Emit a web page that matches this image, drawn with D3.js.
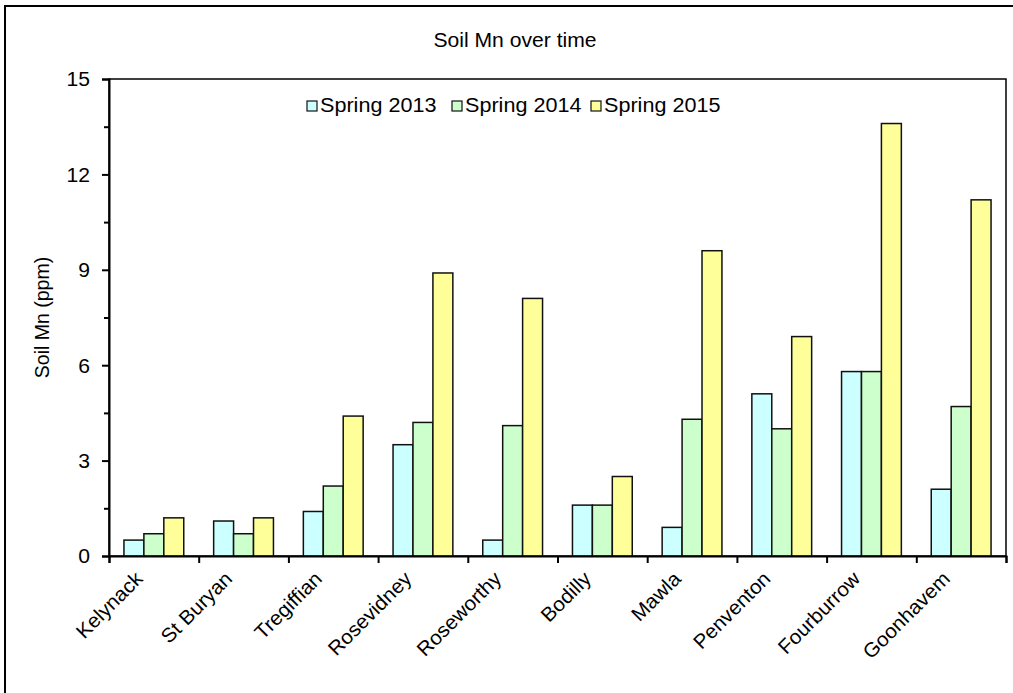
<!DOCTYPE html>
<html>
<head>
<meta charset="utf-8">
<script src="https://cdn.jsdelivr.net/npm/d3@7/dist/d3.min.js"></script>
<style>
  html, body { margin: 0; padding: 0; background: #fff; }
  svg { display: block; }
  text { font-family: "Liberation Sans", Arial, sans-serif; fill: #000; }
</style>
</head>
<body>
<svg id="chart" width="1013" height="693"></svg>
<script>
// Soil manganese by site, three spring samplings
const sites = ["Kelynack", "St Buryan", "Tregiffian", "Rosevidney", "Roseworthy",
               "Bodilly", "Mawla", "Penventon", "Fourburrow", "Goonhavem"];
const seriesNames = ["Spring 2013", "Spring 2014", "Spring 2015"];
const spring2013 = [0.5, 1.1, 1.4, 3.5, 0.5, 1.6, 0.9, 5.1, 5.8, 2.1];
const spring2014 = [0.7, 0.7, 2.2, 4.2, 4.1, 1.6, 4.3, 4.0, 5.8, 4.7];
const spring2015 = [1.2, 1.2, 4.4, 8.9, 8.1, 2.5, 9.6, 6.9, 13.6, 11.2];
const seriesColors = ["#CCFFFF", "#CCFFCC", "#FFFF99"];
const yTicks = [0, 3, 6, 9, 12, 15];
const yMinorTicks = [1.5, 4.5, 7.5, 10.5, 13.5];

const seriesValues = [spring2013, spring2014, spring2015];
const rows = sites.map((s, i) => ({
  site: s,
  values: seriesNames.map((n, k) => ({ series: n, value: seriesValues[k][i] }))
}));

const svg = d3.select("#chart");
const SX = 1.32, SY = 1.22;   // lettering is drawn wide and slightly tall
const FS = 16;                // base font size
const stretch = `scale(${SX},${SY})`;

const plot = { left: 109, right: 1006, top: 79, bottom: 556 };

// outer frame
svg.append("rect")
  .attr("x", 5).attr("y", 6).attr("width", 1030).attr("height", 720)
  .attr("fill", "none").attr("stroke", "#000").attr("stroke-width", 2);

const x = d3.scaleBand().domain(sites).range([plot.left, plot.right]).padding(0);
const bw = x.bandwidth();
const x1 = d3.scaleBand().domain(seriesNames).range([bw / 6, bw * 5 / 6]).padding(0);
const y = d3.scaleLinear().domain([0, 15]).range([plot.bottom, plot.top]);
const color = d3.scaleOrdinal().domain(seriesNames).range(seriesColors);

// plot frame
svg.append("rect")
  .attr("x", plot.left).attr("y", plot.top)
  .attr("width", plot.right - plot.left).attr("height", plot.bottom - plot.top)
  .attr("fill", "none").attr("stroke", "#000").attr("stroke-width", 1.5);

// bars
const groups = svg.append("g").selectAll("g").data(rows).join("g")
  .attr("transform", d => `translate(${x(d.site)},0)`);
groups.selectAll("rect").data(d => d.values).join("rect")
  .attr("x", d => x1(d.series))
  .attr("width", x1.bandwidth())
  .attr("y", d => y(d.value))
  .attr("height", d => y(0) - y(d.value))
  .attr("fill", d => color(d.series))
  .attr("stroke", "#111").attr("stroke-width", 1.5);

// y axis: major and minor ticks
const yAxis = svg.append("g").attr("transform", `translate(${plot.left},0)`)
  .call(d3.axisLeft(y).tickValues(yTicks).tickSize(7).tickPadding(12).tickFormat(d3.format("d")));
svg.append("g").attr("transform", `translate(${plot.left},0)`)
  .call(d3.axisLeft(y).tickValues(yMinorTicks).tickSize(5).tickFormat(""))
  .call(g => g.select(".domain").remove());
yAxis.selectAll("text")
  .attr("font-size", FS).attr("font-family", "Liberation Sans, Arial, sans-serif")
  .attr("dy", "0.35em")
  .each(function () {
    const t = d3.select(this);
    const xx = +t.attr("x");
    t.attr("x", 0).attr("transform", `translate(${xx},0) ${stretch}`);
  });

// x axis: ticks at category boundaries
const xb = d3.scaleLinear().domain([0, sites.length]).range([plot.left, plot.right]);
svg.append("g").attr("transform", `translate(0,${plot.bottom})`)
  .call(d3.axisBottom(xb).tickValues(d3.range(sites.length + 1)).tickSize(7).tickFormat(""));

svg.selectAll("path.domain").attr("stroke", "#000").attr("stroke-width", 2);
svg.selectAll(".tick line").attr("stroke", "#000").attr("stroke-width", 2);

// category labels, rotated 45 degrees on screen
svg.append("g").selectAll("text").data(sites).join("text")
  .attr("text-anchor", "end")
  .attr("font-size", FS)
  .attr("transform", d => `translate(${x(d) + bw / 2 - 10},${plot.bottom + 24}) rotate(-45) scale(1.3,1.25)`)
  .text(d => d);

// title
svg.append("text")
  .attr("text-anchor", "middle").attr("font-size", FS)
  .attr("transform", `translate(515,47) ${stretch}`)
  .text("Soil Mn over time");

// y axis title
svg.append("text")
  .attr("text-anchor", "middle").attr("font-size", FS)
  .attr("transform", `translate(49,${(plot.top + plot.bottom) / 2}) ${stretch} rotate(-90)`)
  .text("Soil Mn (ppm)");

// legend
const legendX = [307, 452, 591];
const legend = svg.append("g").selectAll("g").data(seriesNames).join("g")
  .attr("transform", (d, i) => `translate(${legendX[i]},101)`);
legend.append("rect")
  .attr("x", 0).attr("y", 0).attr("width", 10).attr("height", 10)
  .attr("fill", d => color(d)).attr("stroke", "#111").attr("stroke-width", 1.2);
legend.append("text")
  .attr("font-size", FS)
  .attr("transform", `translate(13,11) scale(1.35,${SY})`)
  .text(d => d);
</script>
</body>
</html>
